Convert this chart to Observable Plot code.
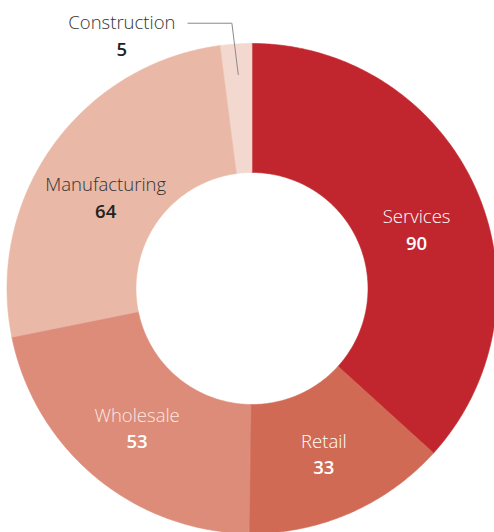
<!DOCTYPE html>
<html><head><meta charset="utf-8">
<script src="https://cdn.jsdelivr.net/npm/d3@7"></script>
<script src="https://cdn.jsdelivr.net/npm/@observablehq/plot@0.6"></script>
<style>
html,body{margin:0;padding:0;background:#fff;}
svg{display:block;font-family:"Open Sans",sans-serif;}
</style></head>
<body><div id="chart"></div>
<script>
const categories = ["Services", "Retail", "Wholesale", "Manufacturing", "Construction"];
const values = [90, 33, 53, 64, 5];
const colors = ["#c1262e", "#d06a55", "#dc8c78", "#e9b8a6", "#f3d8cf"];
const labelColors = ["#ffffff", "#ffffff", "#fbe9e4", "#333333", "#333333"];
const numberColors = ["#ffffff", "#ffffff", "#ffffff", "#222222", "#222222"];
const insideLabel = [true, true, true, true, false];

const data = categories.map((c, i) => ({cat: c, value: values[i], i}));
const arcs = d3.pie().sort(null).value(d => d.value)(data);

const PX = 1 / 245; // one pixel in unit space
const R = 1, r = 116 * PX;
// polygon outlines for each slice (geometry sampled from pie angles)
const pts = [];
for (const a of arcs) {
  const n = Math.max(8, Math.ceil((a.endAngle - a.startAngle) / 0.01));
  for (let k = 0; k <= n; k++) {
    const t = a.startAngle + (a.endAngle - a.startAngle) * k / n;
    pts.push({cat: a.data.cat, x: R * Math.sin(t), y: R * Math.cos(t)});
  }
  for (let k = n; k >= 0; k--) {
    const t = a.startAngle + (a.endAngle - a.startAngle) * k / n;
    pts.push({cat: a.data.cat, x: r * Math.sin(t), y: r * Math.cos(t)});
  }
}

// inside labels at arc centroid
const rho = 180 * PX;
const labels = arcs.filter(a => insideLabel[a.data.i]).map(a => {
  const m = (a.startAngle + a.endAngle) / 2;
  const top = Math.cos(m) > 0;
  const cx = rho * Math.sin(m), cy = rho * Math.cos(m);
  const nameOff = top ? 1 : -11, numOff = top ? 28 : 15;
  return {
    cat: a.data.cat, value: String(a.data.value),
    x: cx, yName: cy - nameOff * PX, yNum: cy - numOff * PX,
    fill: labelColors[a.data.i], numFill: numberColors[a.data.i]
  };
});

// outside label (Construction) with leader
const outside = arcs.filter(a => !insideLabel[a.data.i]).map(a => {
  const m = (a.startAngle + a.endAngle) / 2;
  const p0 = {x: 0.875 * Math.sin(m), y: 0.875 * Math.cos(m)};
  const p1 = {x: 1.09 * Math.sin(m) - 3 * PX, y: 1.085 * Math.cos(m)};
  const p2 = {x: p1.x - 44 * PX, y: p1.y};
  return {p0, p1, p2, cat: a.data.cat, value: String(a.data.value), fill: labelColors[a.data.i], numFill: numberColors[a.data.i]};
});
const leader = outside.flatMap(o => [o.p0, o.p1, o.p2].map(p => ({...p, cat: o.cat})));
const outLabels = outside.map(o => ({cat: o.cat, value: o.value, x: o.p2.x - 66 * PX, yName: o.p2.y, yNum: o.p2.y - 27 * PX, fill: o.fill, numFill: o.numFill}));

const allLabels = labels.concat(outLabels);

const plot = Plot.plot({
  width: 494,
  height: 532,
  margin: 0,
  x: {domain: [-1, 1], range: [6.5, 496.5], axis: null},
  y: {domain: [-1, 1], range: [533, 43], axis: null},
  color: {domain: categories, range: colors},
  marks: [
    Plot.line(pts, {x: "x", y: "y", z: "cat", fill: "cat", stroke: "cat", strokeWidth: 0.6, curve: "linear-closed"}),
    Plot.line(leader, {x: "x", y: "y", z: "cat", stroke: "#8a8a8a", strokeWidth: 1}),
    Plot.text(allLabels, {x: "x", y: "yName", text: "cat", fill: "fill", fontSize: 18.5, fontWeight: 300}),
    Plot.text(allLabels, {x: "x", y: "yNum", text: "value", fill: "numFill", fontSize: 18.5, fontWeight: 600})
  ]
});

document.getElementById("chart").append(plot);
</script>
</body></html>
